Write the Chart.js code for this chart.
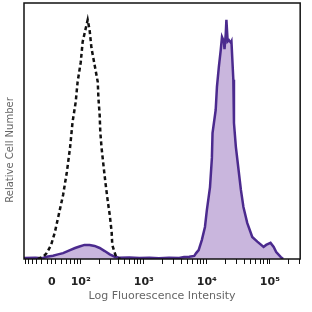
<!DOCTYPE html>
<html>
<head>
<meta charset="utf-8">
<script src="https://cdn.jsdelivr.net/npm/chart.js@4"></script>
<style>
  html, body { margin: 0; padding: 0; background: #fff; }
  #wrap { width: 312px; height: 312px; }
</style>
</head>
<body>
<div id="wrap"><canvas id="histChart"></canvas></div>
<script>
"use strict";

// x is in log10 units of fluorescence (0 on the display sits at 1.54), y is % of max count
let controlX = [1.32, 1.40, 1.46, 1.53, 1.59, 1.65, 1.72, 1.78, 1.83, 1.87, 1.92, 1.95, 2.00, 2.03, 2.08, 2.11,
    2.14, 2.17, 2.22, 2.27, 2.28, 2.30, 2.31, 2.33, 2.36, 2.39, 2.43, 2.46, 2.49, 2.50, 2.55, 2.58, 2.63];
let controlY = [0, 0.8, 2.3, 5.5, 10.5, 17.2, 25.0, 34.0, 43.4, 53.5, 61.3, 69.1, 76.9, 84.8, 90.2, 93.4,
    89.5, 82.4, 75.8, 69.1, 62.9, 56.3, 49.6, 43.4, 36.7, 30.1, 22.3, 17.2, 10.5, 5.5, 1.6, 0.4, 0];

let stainedX = [1.10, 1.28, 1.39, 1.46, 1.56, 1.64, 1.72, 1.83, 1.91, 1.98, 2.06, 2.14, 2.22, 2.30, 2.38, 2.46,
    2.54, 2.61, 2.77, 2.93, 3.09, 3.24, 3.40, 3.56, 3.64, 3.72, 3.80, 3.83, 3.87, 3.92, 3.97, 4.00, 4.05,
    4.08, 4.09, 4.14, 4.16, 4.19, 4.22, 4.24, 4.27, 4.28, 4.30, 4.31, 4.33, 4.35, 4.38, 4.39, 4.42, 4.43,
    4.46, 4.49, 4.54, 4.58, 4.64, 4.72, 4.80, 4.90, 4.94, 5.01, 5.06, 5.10, 5.17, 5.21];
let stainedY = [0.4, 0.5, 0.3, 0.9, 1.3, 1.8, 2.3, 3.5, 4.3, 4.9, 5.5, 5.5, 5.1, 4.3, 3.1, 1.8,
    0.9, 0.5, 0.6, 0.4, 0.5, 0.3, 0.5, 0.4, 0.8, 0.9, 1.2, 2.3, 3.5, 7.4, 12.5, 19.1, 28.1,
    39.5, 49.2, 58.2, 67.2, 75.0, 81.6, 86.7, 85.0, 82.0, 88.0, 93.4, 85.0, 85.5, 84.5, 85.0, 70.0, 53.1,
    43.8, 37.5, 27.0, 20.3, 14.1, 8.6, 6.8, 4.7, 5.5, 6.3, 4.7, 2.7, 0.8, 0];

let tickValues = [1.54, 2, 3, 4, 5];
let tickLabels = ["0", "10²", "10³", "10⁴", "10⁵"];

const xMin = 1.10, xMax = 5.48;

function toPoints(xs, ys) {
    return xs.map((x, i) => ({ x: x, y: ys[i] }));
}

// small ticks between the decades, and mirrored ones round zero
function minorTicks() {
    let out = [];
    for (let n = 1; n <= 5; n++) {
        for (let k = 2; k <= 9; k++) {
            let v = n + Math.log10(k);
            if (v > tickValues[0] && v < xMax) out.push(v);
        }
    }
    let near = out.filter(v => v < 2).map(v => 2 * tickValues[0] - v).filter(v => v > xMin);
    return out.concat(near);
}

const framePlugin = {
    id: "frame",
    afterDatasetsDraw(chart) {
        const a = chart.chartArea, ctx = chart.ctx;
        ctx.save();
        ctx.strokeStyle = "#111";
        ctx.lineWidth = 1.5;
        ctx.strokeRect(a.left, a.top, a.right - a.left, a.bottom - a.top);
        ctx.restore();
    }
};

const sideTitle = {
    id: "sideTitle",
    afterDraw(chart) {
        const ctx = chart.ctx;
        ctx.save();
        ctx.translate(10, 150);
        ctx.rotate(-Math.PI / 2);
        ctx.font = "10px 'DejaVu Sans'";
        ctx.fillStyle = "#666";
        ctx.textAlign = "center";
        ctx.textBaseline = "middle";
        ctx.fillText("Relative Cell Number", 0, 0);
        ctx.restore();
    }
};

const data = {
    datasets: [{
        label: "Control",
        data: toPoints(controlX, controlY),
        borderColor: "#111",
        borderWidth: 2.5,
        borderDash: [4, 3],
        fill: false,
        pointRadius: 0,
        tension: 0,
        order: 1
    }, {
        label: "Stained",
        data: toPoints(stainedX, stainedY),
        borderColor: "#4b2a8e",
        backgroundColor: "rgb(201, 182, 221)",
        borderWidth: 2.5,
        fill: "origin",
        pointRadius: 0,
        tension: 0,
        order: 2
    }]
};

const config = {
    type: "line",
    data: data,
    options: {
        responsive: true,
        maintainAspectRatio: false,
        animation: false,
        layout: { padding: { top: 3, right: 10, left: 0, bottom: 0 } },
        plugins: { legend: { display: false }, tooltip: { enabled: false } },
        scales: {
            x: {
                type: "linear",
                min: xMin,
                max: xMax,
                afterFit(scale) { scale.height = 53; },
                afterBuildTicks(scale) {
                    scale.ticks = tickValues.concat(minorTicks()).sort((a, b) => a - b).map(v => ({ value: v }));
                },
                grid: { drawOnChartArea: false, drawTicks: true, tickLength: 5, color: "#111", tickWidth: 1 },
                border: { display: false },
                ticks: {
                    autoSkip: false,
                    maxRotation: 0,
                    padding: 12,
                    color: "#222",
                    font: { family: "'DejaVu Sans'", size: 11, weight: "bold" },
                    callback(value) {
                        const i = tickValues.findIndex(t => Math.abs(t - value) < 1e-6);
                        return i >= 0 ? tickLabels[i] : "";
                    }
                },
                title: {
                    display: true,
                    text: "Log Fluorescence Intensity",
                    color: "#666",
                    font: { family: "'DejaVu Sans'", size: 11 },
                    padding: { top: 0, bottom: 9 }
                }
            },
            y: {
                min: 0,
                max: 100,
                afterFit(scale) { scale.width = 24; },
                grid: { display: false },
                border: { display: false },
                ticks: { display: false }
            }
        }
    },
    plugins: [framePlugin, sideTitle]
};

new Chart(document.getElementById("histChart"), config);
</script>
</body>
</html>
